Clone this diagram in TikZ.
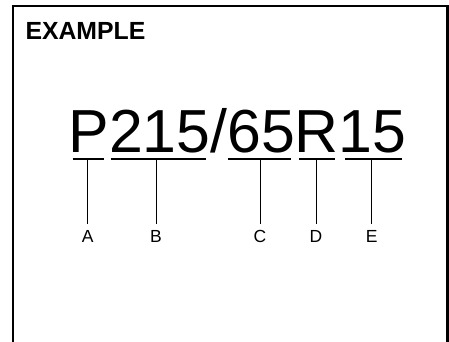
\documentclass[tikz,border=0pt]{standalone}
\usepackage{fontspec}
\setmainfont{Liberation Sans}
\begin{document}
\begin{tikzpicture}[x=1pt,y=-1pt,
  frame/.style={line width=2.2pt},
  uline/.style={line width=2.4pt},
  lead/.style={line width=0.9pt, shorten >=6pt},
  lab/.style={inner sep=0pt, anchor=north, font=\fontsize{17.5}{17.5}\selectfont, text height=12.4pt, text depth=0pt}]
\useasboundingbox (0,0) rectangle (449,342);
\draw[frame] (13,342) -- (13,6) -- (447.5,6) -- (447.5,342);
\node[anchor=base west, inner sep=0pt, font=\fontsize{24.8}{24.8}\selectfont\bfseries] (title) at (25.3,39.5) {EXAMPLE};
\node[anchor=base west, inner sep=0pt, font=\fontsize{60.8}{60.8}\selectfont] (code) at (68.3,152.5) {P215/65R15};
% underlines
\coordinate (ua) at (87.7,159);
\coordinate (ub) at (156,159);
\coordinate (uc) at (260,159);
\coordinate (ud) at (316,159);
\coordinate (ue) at (371.7,159);
\draw[uline] (72.7,159) -- (104,159);
\draw[uline] (110.7,159) -- (205.7,159);
\draw[uline] (227.7,159) -- (290.7,159);
\draw[uline] (299,159) -- (334.7,159);
\draw[uline] (345,159) -- (402.3,159);
% labels
\node[lab] (la) at (87.7,229.5) {A};
\node[lab] (lb) at (156,229.5) {B};
\node[lab] (lc) at (260,229.5) {C};
\node[lab] (ld) at (316,229.5) {D};
\node[lab] (le) at (371.7,229.5) {E};
\draw[lead] (ua) -- (la.north);
\draw[lead] (ub) -- (lb.north);
\draw[lead] (uc) -- (lc.north);
\draw[lead] (ud) -- (ld.north);
\draw[lead] (ue) -- (le.north);
\end{tikzpicture}
\end{document}
